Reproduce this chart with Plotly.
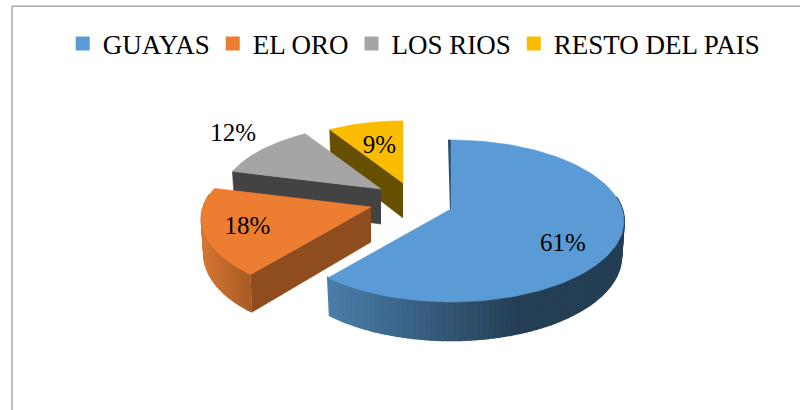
import numpy as np
import plotly.graph_objects as go

categories = ["GUAYAS", "EL ORO", "LOS RIOS", "RESTO DEL PAIS"]
values = [61, 18, 12, 9]

top_colors = ["#5b9bd5", "#ed7d31", "#a5a5a5", "#fbbc00"]
wall_colors = ["#2a4a66", "#8f4c1e", "#434343", "#665000"]
rim_left = [(74, 124, 168), (210, 118, 50), (90, 90, 90), (110, 85, 0)]
rim_right = [(36, 62, 84), (172, 92, 38), (70, 70, 70), (100, 80, 0)]
rim_span = [(332, 520), (203, 247), (220, 320), (320, 403)]

# exploded-pie layout in pixel-sized axis units
apex_x = [451, 371, 381, 403]
apex_y = [209, 207, 189, 183]
scale = [1.0, 0.98, 0.93, 0.9]
label_frac_x = [0.66, 0.74, 1.25, 0.63]
label_frac_y = [1.25, 0.83, 1.37, 0.60]
RX, RY, K, DEPTH = 171, 79.2, 0.148, 35

FONT = "Liberation Serif"


def project(i, deg):
    a = np.radians(deg)
    u, v = np.sin(a), -np.cos(a)
    s = 1 / (1 - K * v)
    return apex_x[i] + scale[i] * RX * u * s, apex_y[i] + scale[i] * RY * v * s, s, v


def lower(i, x, y, s):
    d = DEPTH * (1 + (s - 1) * 0.55)
    return apex_x[i] + (x - apex_x[i]) * 0.985, y + d


def poly(xs, ys, color, lw=0.6):
    return go.Scatter(x=xs, y=ys, mode="lines", fill="toself", fillcolor=color,
                      line=dict(color=color, width=lw), hoverinfo="skip", showlegend=False)


fig = go.Figure()
total = sum(values)
edges = np.concatenate([[0], np.cumsum(values)]) / total * 360

label_x, label_y = [], []
for i in [3, 2, 1, 0]:
    a0, a1 = edges[i], edges[i + 1]
    ax, ay = apex_x[i], apex_y[i]
    # radial wall at the start edge
    px, py, ps, _ = project(i, a0)
    bx, by = lower(i, px, py, ps)
    abx, aby = lower(i, ax, ay, 1.0)
    if i == 0:
        fig.add_trace(poly([px - 3, px, ax, ax - 1], [py, py, ay, ay + 4], wall_colors[i]))
    else:
        fig.add_trace(poly([ax, px, bx, abx], [ay, py, by, aby], wall_colors[i]))
    # outer rim
    n = 130 if i == 0 else 40
    angs = np.linspace(a0, a1, n + 1)
    for j in range(n):
        x0, y0, s0, v0 = project(i, angs[j])
        x1, y1, s1, v1 = project(i, angs[j + 1])
        if max(v0, v1) < -0.15:
            continue
        xb0, yb0 = lower(i, x0, y0, s0)
        xb1, yb1 = lower(i, x1, y1, s1)
        lo, hi = rim_span[i]
        t = float(np.clip(((x0 + x1) / 2 - lo) / (hi - lo), 0, 1))
        c = [round(rim_left[i][k] + (rim_right[i][k] - rim_left[i][k]) * t) for k in range(3)]
        fig.add_trace(poly([x0, x1, xb1, xb0], [y0, y1, yb1, yb0], f"rgb({c[0]},{c[1]},{c[2]})", lw=2))
    # top face
    arc = [project(i, a) for a in np.linspace(a0, a1, 120)]
    fig.add_trace(poly([ax] + [p[0] for p in arc] + [ax], [ay] + [p[1] for p in arc] + [ay], top_colors[i]))
    mx, my, _, _ = project(i, (a0 + a1) / 2)
    label_x.append(ax + (mx - ax) * label_frac_x[i])
    label_y.append(ay + (my - ay) * label_frac_y[i])

order = [3, 2, 1, 0]
fig.add_trace(go.Scatter(x=label_x, y=label_y, mode="text",
                         text=[f"{values[i]}%" for i in order],
                         textposition="middle center",
                         textfont=dict(family=FONT, size=25, color="#000000"),
                         hoverinfo="skip", showlegend=False))

# legend entries
for name, color in zip(categories, top_colors):
    fig.add_trace(go.Scatter(x=[None], y=[None], mode="markers", name=name,
                             marker=dict(symbol="square", size=14, color=color)))

fig.update_layout(
    width=800, height=410,
    margin=dict(l=0, r=0, t=0, b=0),
    paper_bgcolor="white", plot_bgcolor="white",
    xaxis=dict(range=[0, 800], visible=False, fixedrange=True),
    yaxis=dict(range=[410, 0], visible=False, fixedrange=True),
    showlegend=True,
    legend=dict(orientation="h", x=0.519, xanchor="center", y=0.893, yanchor="middle",
                font=dict(family=FONT, size=27, color="#000000"),
                indentation=-2, bgcolor="rgba(0,0,0,0)", traceorder="normal"),
    shapes=[
        dict(type="line", xref="paper", yref="paper", x0=0.015, x1=1, y0=0.985, y1=0.985,
             line=dict(color="#a6a6a6", width=1.5)),
        dict(type="line", xref="paper", yref="paper", x0=0.015, x1=0.015, y0=0, y1=0.985,
             line=dict(color="#a6a6a6", width=1.5)),
    ],
)
fig.write_html("out.html", config={"displayModeBar": False},
               post_script="document.body.style.margin='0';")
